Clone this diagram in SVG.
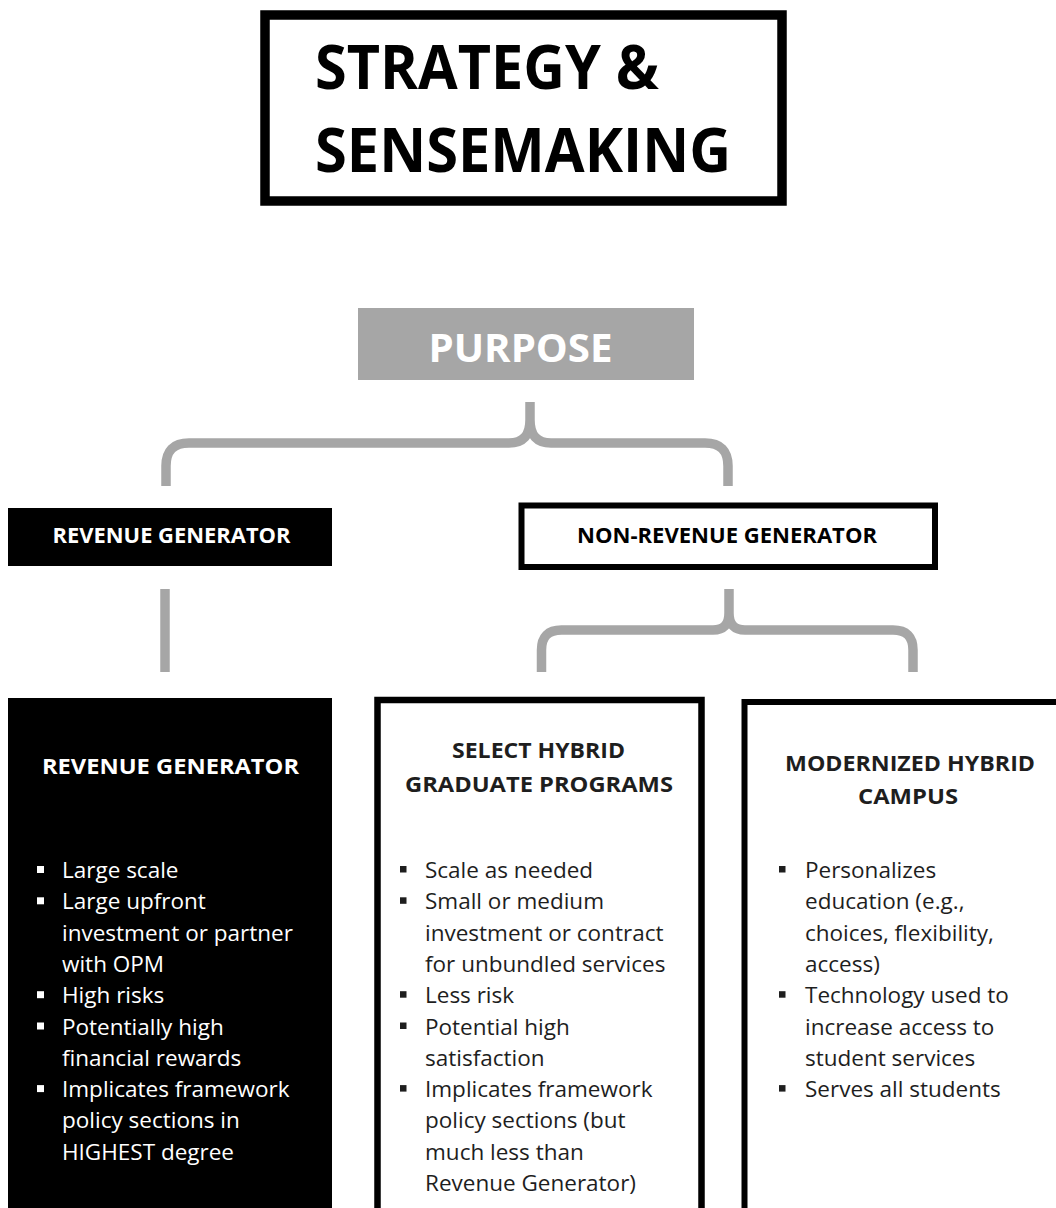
<svg xmlns="http://www.w3.org/2000/svg" width="1056" height="1208" viewBox="0 0 1056 1208">
<style>
.hd{font-family:'Open Sans','Noto Sans','Liberation Sans',sans-serif;font-weight:700}
.b{font-family:'Open Sans','Noto Sans','Liberation Sans',sans-serif;font-size:22.5px}
.dark{fill:#1e1e1e}
.light{fill:#ffffff}
.brace{fill:none;stroke:#a6a6a6;stroke-width:9.5}
</style>
<rect width="1056" height="1208" fill="#ffffff"/>

<g id="title">
<rect x="265" y="15" width="517" height="186" fill="#ffffff" stroke="#000000" stroke-width="9.5"/>
<text class="hd" x="315" y="89" font-size="60" fill="#000000" textLength="344" lengthAdjust="spacingAndGlyphs">STRATEGY &amp;</text>
<text class="hd" x="315" y="172" font-size="60" fill="#000000" textLength="416" lengthAdjust="spacingAndGlyphs">SENSEMAKING</text>
</g>

<g id="purpose">
<rect x="358" y="308" width="336" height="72" fill="#a6a6a6"/>
<text class="hd" x="428.5" y="362" font-size="40" fill="#ffffff" textLength="184" lengthAdjust="spacingAndGlyphs">PURPOSE</text>
</g>

<g id="revenue-generator-label">
<rect x="8" y="508" width="324" height="58" fill="#000000"/>
<text class="hd" x="52.5" y="543" font-size="21" fill="#ffffff" textLength="238" lengthAdjust="spacingAndGlyphs">REVENUE GENERATOR</text>
</g>

<g id="non-revenue-generator-label">
<rect x="521.5" y="505.5" width="413.5" height="61.5" fill="#ffffff" stroke="#000000" stroke-width="6"/>
<text class="hd" x="577" y="543" font-size="21" fill="#000000" textLength="300" lengthAdjust="spacingAndGlyphs">NON-REVENUE GENERATOR</text>
</g>

<g id="connectors">
<path class="brace" d="M166,486 V466 Q166,443 189,443 H509 Q530,443 530,420 V402 M530,420 Q530,443 551,443 H705 Q728,443 728,466 V486"/>
<path class="brace" d="M165,589 V672"/>
<path class="brace" d="M541.5,672 V650 Q541.5,630 561.5,630 H713 Q729,630 729,613 V589 M729,613 Q729,630 745,630 H893 Q913,630 913,650 V672"/>
</g>

<g id="box-revenue-generator">
<rect x="8" y="698" width="324" height="520" fill="#000000"/>
<text class="hd light" x="42" y="774" font-size="22" textLength="257" lengthAdjust="spacingAndGlyphs">REVENUE GENERATOR</text>
<g class="light">
<rect x="37" y="866" width="7" height="7"/>
<rect x="37" y="897.3" width="7" height="7"/>
<rect x="37" y="991.2" width="7" height="7"/>
<rect x="37" y="1022.5" width="7" height="7"/>
<rect x="37" y="1085.1" width="7" height="7"/>
</g>
<text class="b light">
<tspan x="62" y="878">Large scale</tspan>
<tspan x="62" y="909.3">Large upfront</tspan>
<tspan x="62" y="940.6">investment or partner</tspan>
<tspan x="62" y="971.9">with OPM</tspan>
<tspan x="62" y="1003.2">High risks</tspan>
<tspan x="62" y="1034.5">Potentially high</tspan>
<tspan x="62" y="1065.8">financial rewards</tspan>
<tspan x="62" y="1097.1">Implicates framework</tspan>
<tspan x="62" y="1128.4">policy sections in</tspan>
<tspan x="62" y="1159.7">HIGHEST degree</tspan>
</text>
</g>

<g id="box-select-hybrid">
<rect x="377.5" y="700" width="324" height="520" fill="#ffffff" stroke="#000000" stroke-width="6.5"/>
<text class="hd dark" x="452" y="758" font-size="22" textLength="173" lengthAdjust="spacingAndGlyphs">SELECT HYBRID</text>
<text class="hd dark" x="405" y="792" font-size="22" textLength="268" lengthAdjust="spacingAndGlyphs">GRADUATE PROGRAMS</text>
<g class="dark">
<rect x="400" y="866" width="6.5" height="6.5"/>
<rect x="400" y="897.3" width="6.5" height="6.5"/>
<rect x="400" y="991.2" width="6.5" height="6.5"/>
<rect x="400" y="1022.5" width="6.5" height="6.5"/>
<rect x="400" y="1085.1" width="6.5" height="6.5"/>
</g>
<text class="b dark">
<tspan x="425" y="878">Scale as needed</tspan>
<tspan x="425" y="909.3">Small or medium</tspan>
<tspan x="425" y="940.6">investment or contract</tspan>
<tspan x="425" y="971.9">for unbundled services</tspan>
<tspan x="425" y="1003.2">Less risk</tspan>
<tspan x="425" y="1034.5">Potential high</tspan>
<tspan x="425" y="1065.8">satisfaction</tspan>
<tspan x="425" y="1097.1">Implicates framework</tspan>
<tspan x="425" y="1128.4">policy sections (but</tspan>
<tspan x="425" y="1159.7">much less than</tspan>
<tspan x="425" y="1191">Revenue Generator)</tspan>
</text>
</g>

<g id="box-modernized-campus">
<rect x="744.5" y="702" width="340" height="520" fill="#ffffff" stroke="#000000" stroke-width="6"/>
<text class="hd dark" x="785" y="771" font-size="22" textLength="250" lengthAdjust="spacingAndGlyphs">MODERNIZED HYBRID</text>
<text class="hd dark" x="858" y="804" font-size="22" textLength="100" lengthAdjust="spacingAndGlyphs">CAMPUS</text>
<g class="dark">
<rect x="779" y="866" width="6.5" height="6.5"/>
<rect x="779" y="991.2" width="6.5" height="6.5"/>
<rect x="779" y="1085.1" width="6.5" height="6.5"/>
</g>
<text class="b dark">
<tspan x="805" y="878">Personalizes</tspan>
<tspan x="805" y="909.3">education (e.g.,</tspan>
<tspan x="805" y="940.6">choices, flexibility,</tspan>
<tspan x="805" y="971.9">access)</tspan>
<tspan x="805" y="1003.2">Technology used to</tspan>
<tspan x="805" y="1034.5">increase access to</tspan>
<tspan x="805" y="1065.8">student services</tspan>
<tspan x="805" y="1097.1">Serves all students</tspan>
</text>
</g>
</svg>
